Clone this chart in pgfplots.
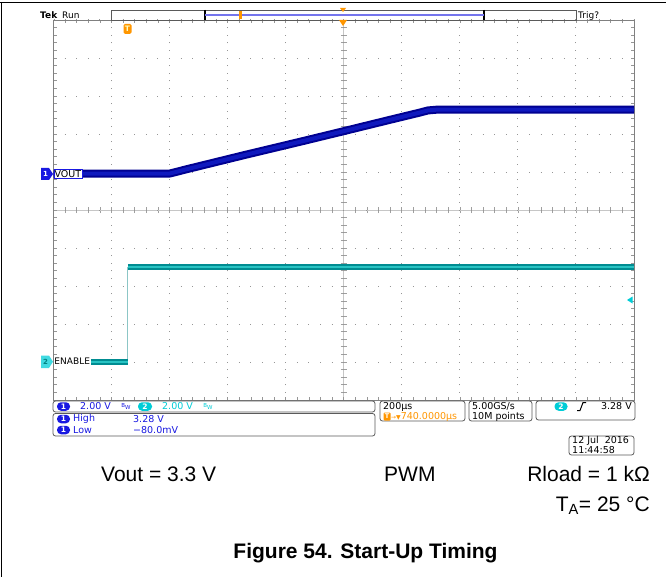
\documentclass[border=0pt]{standalone}
\usepackage{pgfplots}
\pgfplotsset{compat=1.18}
\usepackage{pgfplotstable}
\usepackage{fontspec}
\setmainfont{Liberation Sans}
\newfontfamily\tekfam{DejaVu Sans}
\definecolor{chone}{RGB}{25,25,225}
\definecolor{chtwo}{RGB}{0,205,215}
\definecolor{tekorange}{RGB}{255,150,0}
\definecolor{voutdark}{RGB}{0,0,145}
\definecolor{voutmid}{RGB}{15,25,190}
\definecolor{endark}{RGB}{0,140,145}
\definecolor{enmid}{RGB}{40,195,195}
\definecolor{gridgray}{RGB}{150,150,150}
\definecolor{boxgray}{RGB}{90,90,90}

% VOUT (channel 1): time in microseconds, volts
\pgfplotstableread{
t v
-260 -0.08
141 -0.08
200 0.15
400 0.90
600 1.63
740 2.15
900 2.75
1000 3.12
1030 3.24
1060 3.28
1740 3.28
}\vout
% ENABLE (channel 2)
\pgfplotstableread{
t v
-260 0
-4 0
}\enlow
\pgfplotstableread{
t v
-4 5.0
1740 5.0
}\enhigh
\pgfplotstableread{
t v
-4 0
-4 5.0
}\enedge

\newcommand{\tekfont}[1]{\tekfam\fontsize{#1}{#1}\selectfont}

\begin{document}
\begin{tikzpicture}[x=1bp,y=-1bp]
\path[use as bounding box] (0,0) rectangle (666,577);
\fill[white] (0,0) rectangle (666,577);
\draw[line width=1bp] (0,3)--(666,3);
\draw[line width=1bp] (1,3)--(1,577);

% centre cross with ticks
\begin{axis}[at={(53.5bp,-400bp)}, anchor=south west, scale only axis,
  width=580.5bp, height=380bp,
  xmin=-5, xmax=5, ymin=-5, ymax=5,
  axis lines=middle, axis line style={-, draw=gray!45, line width=0.8bp},
  xtick={-5,...,5}, ytick={-5,...,5},
  minor x tick num=4, minor y tick num=4,
  xticklabels={}, yticklabels={},
  tick align=center, major tick length=6bp, minor tick length=6bp,
  tick style={draw=gray!75, line width=0.7bp}]
\end{axis}

% graticule and traces
\begin{axis}[at={(53.5bp,-400bp)}, anchor=south west, scale only axis,
  width=580.5bp, height=380bp,
  xmin=-260, xmax=1740, ymin=-5, ymax=5,
  xtick={-260,-60,...,1740}, ytick={-5,...,5},
  minor x tick num=4, minor y tick num=4,
  xticklabels={}, yticklabels={},
  tick align=inside, major tick length=3.5bp, minor tick length=3.5bp,
  tick pos=both,
  tick style={draw=gridgray, line width=0.7bp},
  axis line style={draw=gray, line width=0.9bp},
  grid=major,
  x grid style={draw=gridgray, line width=1bp, dash pattern=on 1bp off 6.6bp, dash phase=0.5bp},
  y grid style={draw=gridgray, line width=1bp, dash pattern=on 1bp off 10.61bp, dash phase=0.5bp}]
\addplot[draw=voutdark, line width=8bp, line join=round] table[x=t, y expr=\thisrow{v}/2+1] {\vout};
\addplot[draw=voutmid, line width=4bp, line join=round] table[x=t, y expr=\thisrow{v}/2+1] {\vout};
\addplot[draw=teal!45, line width=1.2bp] table[x=t, y expr=\thisrow{v}/2-4] {\enedge};
\addplot[draw=endark, line width=5.5bp] table[x=t, y expr=\thisrow{v}/2-4] {\enlow};
\addplot[draw=enmid, line width=2.5bp] table[x=t, y expr=\thisrow{v}/2-4] {\enlow};
\addplot[draw=endark, line width=5.5bp] table[x=t, y expr=\thisrow{v}/2-4] {\enhigh};
\addplot[draw=enmid, line width=2.5bp] table[x=t, y expr=\thisrow{v}/2-4] {\enhigh};
\end{axis}

% top status bar
\node[anchor=base west, inner sep=0, font=\tekfont{9bp}\bfseries] at (40,18.5) {Tek};
\node[anchor=base west, inner sep=0, font=\tekfont{9bp}] at (62,18.5) {Run};
\draw[line width=0.8bp, draw=boxgray] (111,10) rectangle (576,20);
\draw[line width=1.2bp] (205,10)--(205,20);
\draw[line width=1.2bp] (484,10)--(484,20);
\draw[draw=chone!60, line width=1.2bp] (205,15)--(484,15);
\fill[tekorange] (238.5,11.5) rectangle (241.5,19);
\fill[tekorange] (340,8)--(346,8)--(343,12)--cycle;
\fill[tekorange] (339,20)--(347,20)--(343,26)--cycle;
\node[anchor=base west, inner sep=0, font=\tekfont{9bp}] at (578,18.5) {Trig?};

% trigger T marker
\node[fill=tekorange, rounded corners=1.5bp, inner sep=0, minimum width=8bp, minimum height=10bp,
  text=yellow!25, font=\tekfont{7.5bp}\bfseries] at (127.5,29) {T};

% channel markers and labels
\fill[chone] (41,168)--(49,168)--(53,174)--(49,180)--(41,180)--cycle;
\node[text=white, inner sep=0, font=\tekfont{7bp}\bfseries] at (45.5,174) {1};
\node[fill=white, draw=chone, line width=0.4bp, inner sep=0.8bp, anchor=west, font=\tekfont{9.5bp}] at (53.5,174) {VOUT};
\fill[chtwo!75] (41,355.5)--(49,355.5)--(53,361.7)--(49,368)--(41,368)--cycle;
\node[text=teal, inner sep=0, font=\tekfont{7bp}\bfseries] at (45.5,361.7) {2};
\node[fill=white, inner sep=0.8bp, anchor=west, font=\tekfont{9bp}] at (53.5,361.7) {ENABLE};
\fill[chtwo] (627,300)--(632.5,296.5)--(632.5,303.5)--cycle;

% info boxes
\draw[draw=boxgray, line width=0.8bp, rounded corners=2.5bp] (53,401) rectangle (375,412);
\draw[draw=boxgray, line width=0.8bp, rounded corners=2.5bp] (53,413.5) rectangle (375,436);
\draw[draw=boxgray, line width=0.8bp, rounded corners=2.5bp] (380,401) rectangle (465,421);
\draw[draw=boxgray, line width=0.8bp, rounded corners=2.5bp] (469,401) rectangle (532,421);
\draw[draw=boxgray, line width=0.8bp, rounded corners=2.5bp] (536,401) rectangle (635,420);
\draw[draw=boxgray, line width=0.8bp, rounded corners=2.5bp] (569,436) rectangle (634,455);

\foreach \yy in {406.5,419,430}{
  \node[fill=chone, text=white, rounded corners=4bp, inner sep=0, minimum width=13bp, minimum height=8.5bp,
    font=\tekfont{7.5bp}\bfseries] at (63.5,\yy) {1};
}
\node[anchor=west, inner sep=0, text=chone, font=\tekfont{9.5bp}] at (80,406.5) {2.00 V};
\node[inner sep=0, text=chone, font=\tekfont{5.5bp}] at (126,406.5) {B\raisebox{-1.5bp}{W}};
\node[fill=chtwo, text=white, rounded corners=4bp, inner sep=0, minimum width=14bp, minimum height=8.5bp,
    font=\tekfont{7.5bp}\bfseries] at (145,406.5) {2};
\node[anchor=west, inner sep=0, text=chtwo, font=\tekfont{9.5bp}] at (162,406.5) {2.00 V};
\node[inner sep=0, text=chtwo, font=\tekfont{5.5bp}] at (208,406.5) {B\raisebox{-1.5bp}{W}};
\node[anchor=west, inner sep=0, text=chone, font=\tekfont{9.5bp}] at (73,419) {High};
\node[anchor=west, inner sep=0, text=chone, font=\tekfont{9.5bp}] at (133,419) {3.28 V};
\node[anchor=west, inner sep=0, text=chone, font=\tekfont{9.5bp}] at (73,430) {Low};
\node[anchor=west, inner sep=0, text=chone, font=\tekfont{9.5bp}] at (133,430) {−80.0mV};

\node[anchor=west, inner sep=0, font=\tekfont{9.5bp}] at (383,406.5) {200µs};
\node[fill=tekorange, text=white, rounded corners=1bp, inner sep=0, minimum width=7bp, minimum height=8bp,
  font=\tekfont{6.5bp}\bfseries] at (387,416.5) {T};
\node[anchor=west, inner sep=0, text=tekorange, font=\tekfont{9.5bp}] at (391,416.5) {{\fontsize{6bp}{6bp}\selectfont→▼}740.0000µs};

\node[anchor=west, inner sep=0, font=\tekfont{9.5bp}] at (472,406.5) {5.00GS/s};
\node[anchor=west, inner sep=0, font=\tekfont{9.5bp}] at (472,416.5) {10M points};

\node[fill=chtwo, text=white, rounded corners=4bp, inner sep=0, minimum width=13bp, minimum height=8.5bp,
    font=\tekfont{7.5bp}\bfseries] at (561,406.5) {2};
\draw[line width=1bp] (577,410.5)--(580,410.5)--(583,402.5)--(586,402.5);
\node[anchor=east, inner sep=0, font=\tekfont{9.5bp}] at (632,406.5) {3.28 V};

\node[anchor=west, inner sep=0, font=\tekfont{9.5bp}] at (572,441) {12 Jul\ \ 2016};
\node[anchor=west, inner sep=0, font=\tekfont{9.5bp}] at (572,450.5) {11:44:58};

% conditions and caption
\node[anchor=base west, inner sep=0, font=\fontsize{21bp}{25bp}\selectfont] at (101,481) {Vout = 3.3 V};
\node[anchor=base west, inner sep=0, font=\fontsize{21bp}{25bp}\selectfont] at (384,481) {PWM};
\node[anchor=base east, inner sep=0, font=\fontsize{21bp}{25bp}\selectfont] at (650,481) {Rload = 1 kΩ};
\node[anchor=base east, inner sep=0, font=\fontsize{21bp}{25bp}\selectfont] at (650,511) {T\textsubscript{A}= 25 °C};
\node[anchor=base, inner sep=0, font=\fontsize{21bp}{25bp}\selectfont\bfseries] at (365.5,558) {Figure 54. Start-Up Timing};
\end{tikzpicture}
\end{document}
